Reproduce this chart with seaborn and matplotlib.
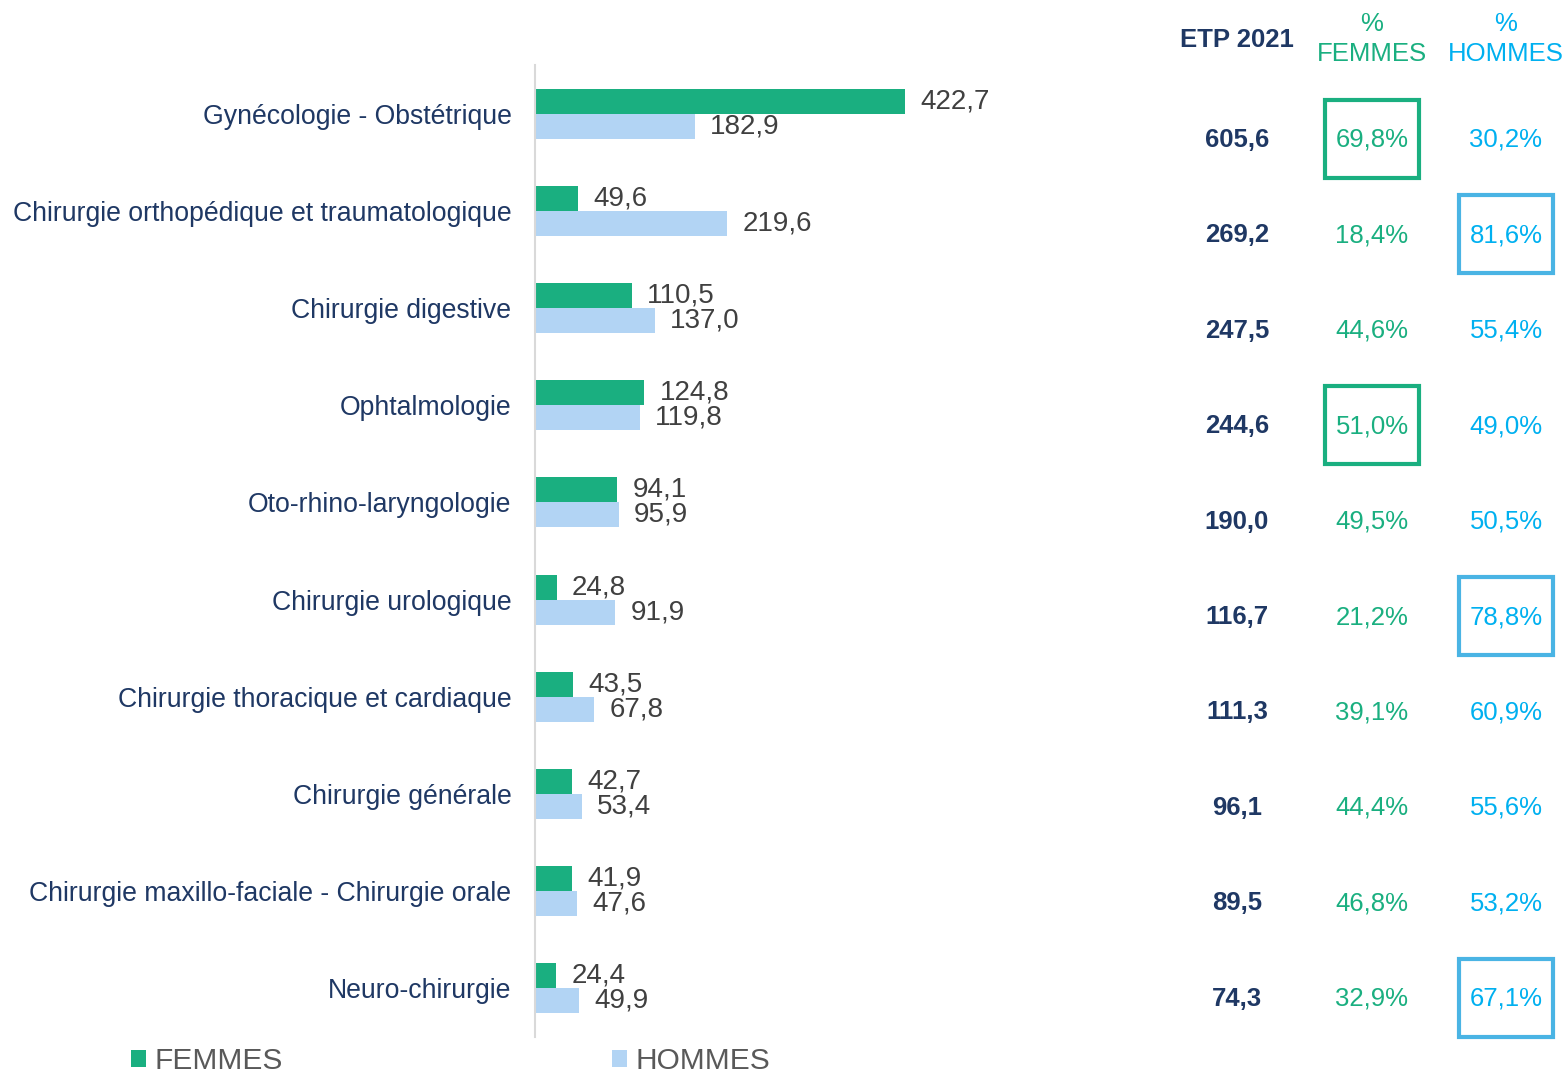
import pandas as pd
import matplotlib.pyplot as plt
import seaborn as sns
from matplotlib.patches import Rectangle

# Données
categories = ['Gynécologie - Obstétrique',
              'Chirurgie orthopédique et traumatologique',
              'Chirurgie digestive',
              'Ophtalmologie',
              'Oto-rhino-laryngologie',
              'Chirurgie urologique',
              'Chirurgie thoracique et cardiaque',
              'Chirurgie générale',
              'Chirurgie maxillo-faciale - Chirurgie orale',
              'Neuro-chirurgie']
femmes = [422.7, 49.6, 110.5, 124.8, 94.1, 24.8, 43.5, 42.7, 41.9, 24.4]
hommes = [182.9, 219.6, 137.0, 119.8, 95.9, 91.9, 67.8, 53.4, 47.6, 49.9]
etp_2021 = [605.6, 269.2, 247.5, 244.6, 190.0, 116.7, 111.3, 96.1, 89.5, 74.3]
pct_femmes = [69.8, 18.4, 44.6, 51.0, 49.5, 21.2, 39.1, 44.4, 46.8, 32.9]
pct_hommes = [30.2, 81.6, 55.4, 49.0, 50.5, 78.8, 60.9, 55.6, 53.2, 67.1]
box_femmes = [0, 3]       # lignes encadrées (% femmes)
box_hommes = [1, 5, 9]    # lignes encadrées (% hommes)

GREEN = '#1aaf80'
BLUE_BAR = '#b2d4f4'
CYAN = '#00b0f0'
BOX_BLUE = '#4ab4e4'
NAVY = '#1f3864'
GREY = '#404040'

df = pd.DataFrame({
    'categorie': categories * 2,
    'sexe': ['FEMMES'] * len(categories) + ['HOMMES'] * len(categories),
    'etp': femmes + hommes,
})

sns.set_style('white')
plt.rcParams['font.family'] = ['Liberation Sans', 'DejaVu Sans']

W, H = 1567, 1077
fig = plt.figure(figsize=(W / 100, H / 100), dpi=100)
ax = fig.add_axes([535 / W, 1 - 1037 / H, (1150 - 535) / W, (1037 - 65) / H])

sns.barplot(data=df, y='categorie', x='etp', hue='sexe', orient='h',
            palette={'FEMMES': GREEN, 'HOMMES': BLUE_BAR}, width=0.514,
            saturation=1, linewidth=0, ax=ax, legend=True)

ax.set_xlim(0, 703)
ax.set_ylim(9.5, -0.5)
ax.set_xlabel('')
ax.set_ylabel('')
ax.set_xticks([])
for s in ['top', 'right', 'bottom']:
    ax.spines[s].set_visible(False)
ax.spines['left'].set_color('#d9d9d9')
ax.spines['left'].set_linewidth(1.5)
ax.tick_params(axis='y', length=0, pad=17, labelsize=19.2, labelcolor=NAVY)

# Etiquettes de valeurs
for cont in ax.containers:
    for bar in cont:
        v = bar.get_width()
        ax.annotate(f'{v:.1f}'.replace('.', ','),
                    (v, bar.get_y() + bar.get_height() / 2),
                    xytext=(11, 0), textcoords='offset points',
                    va='center', ha='left', fontsize=20, color=GREY)

# Légende
handles, labels = ax.get_legend_handles_labels()
ax.get_legend().remove()
fig.legend(handles, labels, loc='center left',
           bbox_to_anchor=(131 / W, 1 - 1061 / H), ncol=2, frameon=False,
           fontsize=21.5, handlelength=0.5, handleheight=0.5,
           handletextpad=0.3, columnspacing=11.0, borderpad=0,
           borderaxespad=0, labelcolor='#595959')

# Tableau à droite
x_etp, x_f, x_h = 1237 / W, 1372 / W, 1506 / W
fig.text(x_etp, 1 - 40 / H, 'ETP 2021', ha='center', va='center',
         fontsize=18.5, fontweight='bold', color=NAVY)
fig.text(x_f, 1 - 39 / H, '%\nFEMMES', ha='center', va='center',
         fontsize=18.5, color=GREEN, linespacing=1.3)
fig.text(x_h, 1 - 39 / H, '%\nHOMMES', ha='center', va='center',
         fontsize=18.5, color=CYAN, linespacing=1.3)

fmt = lambda v: f'{v:.1f}'.replace('.', ',')
for i in range(len(categories)):
    y = 1 - (140 + i * 95.4) / H
    fig.text(x_etp, y, fmt(etp_2021[i]), ha='center', va='center',
             fontsize=18.5, fontweight='bold', color=NAVY)
    fig.text(x_f, y, fmt(pct_femmes[i]) + '%', ha='center', va='center',
             fontsize=18.5, color=GREEN)
    fig.text(x_h, y, fmt(pct_hommes[i]) + '%', ha='center', va='center',
             fontsize=18.5, color=CYAN)
    bw, bh = 94 / W, 78 / H
    yc = 1 - (139 + i * 95.4) / H
    if i in box_femmes:
        fig.patches.append(Rectangle((x_f - bw / 2, yc - bh / 2), bw, bh,
                                     fill=False, ec=GREEN, lw=3,
                                     transform=fig.transFigure, figure=fig))
    if i in box_hommes:
        fig.patches.append(Rectangle((x_h - bw / 2, yc - bh / 2), bw, bh,
                                     fill=False, ec=BOX_BLUE, lw=3,
                                     transform=fig.transFigure, figure=fig))

fig.savefig('out.png', dpi=100)
